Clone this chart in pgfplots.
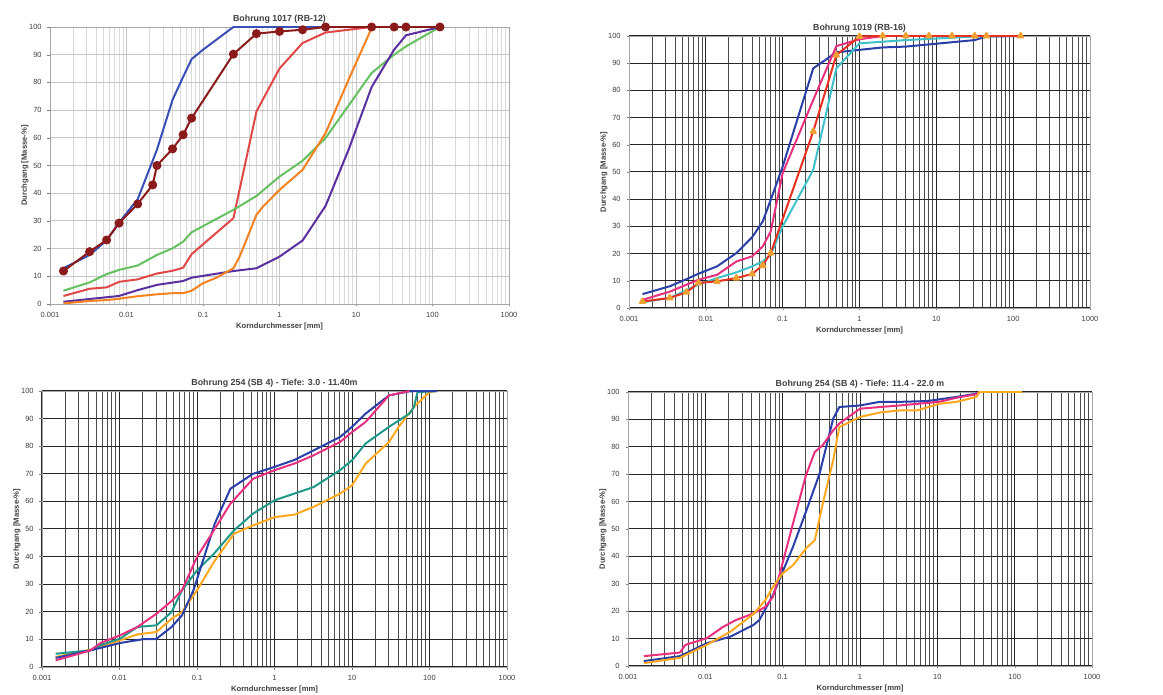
\documentclass[border=0pt]{standalone}
\usepackage{pgfplots}
\pgfplotsset{compat=1.18}
\usepackage{fontspec}
\setmainfont{Liberation Sans}
\usepackage{xcolor}

\definecolor{cblue}{HTML}{3A4FB5}
\definecolor{cdred}{HTML}{8B1A1A}
\definecolor{cred}{HTML}{E04848}
\definecolor{cgreen}{HTML}{66C060}
\definecolor{cpurple}{HTML}{5A30A0}
\definecolor{corange}{HTML}{F5821F}
\definecolor{dblue}{HTML}{2A3FA8}
\definecolor{cpink}{HTML}{E8307F}
\definecolor{cred2}{HTML}{E83020}
\definecolor{ccyan}{HTML}{40C0C8}
\definecolor{ctri}{HTML}{F0A030}
\definecolor{cteal}{HTML}{20988A}
\definecolor{camber}{HTML}{FFA820}
\definecolor{txt}{HTML}{404040}

\pgfplotsset{
  sieve/.style={
    scale only axis,
    xmin=0.001, xmax=1000, ymin=0, ymax=100,
    xtick={0.001,0.01,0.1,1,10,100,1000},
    xticklabels={0.001,0.01,0.1,1,10,100,1000},
    ytick={0,10,...,100},
    /pgf/number format/assume math mode=true,
    tick pos=left,
    tick align=outside, major tick length=1.5pt, minor tick length=0pt,
    tick style={gray},
    axis line style={gray!70},
    tick label style={font=\fontsize{4.5}{5}\selectfont, text=txt},
    title style={font=\fontsize{5.3}{6}\selectfont\bfseries, text=txt, yshift=-7.5pt},
    xlabel={Korndurchmesser [mm]},
    ylabel={Durchgang [Masse-\%]},
    label style={font=\fontsize{4.6}{5}\selectfont\bfseries, text=txt},
    xlabel style={yshift=4pt},
    ylabel style={yshift=-6.5pt},
    grid=both,
  },
  lightgrid/.style={
    major grid style={gray!45, line width=0.5pt},
    minor grid style={gray!30, line width=0.4pt},
  },
  darkgrid/.style={
    major grid style={black!85, line width=0.6pt},
    minor grid style={black!70, line width=0.6pt},
  },
  curve/.style={line width=1.2pt, line join=round},
}

\begin{document}
\begin{tikzpicture}
\useasboundingbox (0,0) rectangle (697.8pt,417pt);

% ---------- Bohrung 1017 ----------
\begin{semilogxaxis}[sieve, lightgrid, at={(30pt,234.6pt)}, anchor=south west,
  width=275.4pt, height=166.2pt, title={Bohrung 1017 (RB-12)}]
\addplot[curve, cblue] coordinates {
  (0.0015,12.9) (0.0033,17.7) (0.0055,23) (0.008,29.4) (0.014,37.8)
  (0.025,55.7) (0.04,73.7) (0.055,82) (0.071,88.4) (0.1,91.8) (0.25,100)
  (0.5,100) (1,100) (2,100) (4,100)};
\addplot[curve, cred] coordinates {
  (0.0015,2.9) (0.0033,5.5) (0.0055,6) (0.008,8) (0.014,8.9) (0.025,11)
  (0.04,12) (0.055,13.1) (0.071,18) (0.25,31) (0.5,69.5) (1,85) (2,94.2)
  (4,98) (16,100)};
\addplot[curve, cgreen] coordinates {
  (0.0015,4.8) (0.0033,7.8) (0.0055,10.8) (0.008,12.3) (0.014,13.9)
  (0.025,17.7) (0.04,20.1) (0.055,22.5) (0.071,25.9) (0.25,34) (0.5,39)
  (1,46) (2,51.7) (4,59.9) (16,83.4) (31.5,90) (45,93) (125,100)};
\addplot[curve, cpurple] coordinates {
  (0.0015,0.8) (0.0033,1.8) (0.008,2.9) (0.014,5) (0.025,6.9) (0.055,8.3)
  (0.071,9.5) (0.25,11.9) (0.5,12.9) (1,17.1) (2,22.9) (4,35.4) (8,55.7)
  (16,78.3) (31.5,91.8) (45,97) (125,100)};
\addplot[curve, corange] coordinates {
  (0.0015,0.2) (0.0033,1.1) (0.0055,1.4) (0.008,1.9) (0.014,2.8) (0.025,3.5)
  (0.04,3.9) (0.055,3.9) (0.071,4.8) (0.1,7.5) (0.15,9.5) (0.25,12.9)
  (0.3,17) (0.5,32.2) (0.6,35) (1,41.2) (2,48.4) (4,61.7) (8,81)
  (16,99.6) (22,100.8) (31.5,100)};
\addplot[curve, cdred, mark=*, mark size=2.1pt] coordinates {
  (0.0015,11.9) (0.0033,18.9) (0.0055,23.1) (0.008,29.2) (0.014,36.1)
  (0.022,43) (0.025,50) (0.04,56) (0.055,61.1) (0.071,67.1) (0.25,90.2)
  (0.5,97.6) (1,98.4) (2,99) (4,100) (16,100) (31.5,100) (45,100) (125,100)};
\end{semilogxaxis}

% ---------- Bohrung 1019 ----------
\begin{semilogxaxis}[sieve, darkgrid, at={(377.4pt,232.2pt)}, anchor=south west,
  width=276.6pt, height=163.2pt, title={Bohrung 1019 (RB-16)}]
\addplot[curve, dblue] coordinates {
  (0.0015,5.1) (0.0034,8) (0.0056,10.6) (0.008,12.6) (0.014,15.3)
  (0.025,20.2) (0.04,26) (0.055,31.8) (0.07,39.8) (0.1,52) (0.25,88.1)
  (0.5,94) (1,94.9) (2,95.8) (4,96.1) (31.5,98.5) (45,99.8) (125,100)};
\addplot[curve, ccyan] coordinates {
  (0.0015,2.1) (0.0034,3.7) (0.008,8.6) (0.014,11) (0.025,13.1) (0.04,15.3)
  (0.055,17.1) (0.07,19.6) (0.1,30) (0.25,50.8) (0.5,88.1) (1,97.3)
  (2,97.9) (4,98.5) (31.5,99.8) (125,100)};
\addplot[curve, cpink] coordinates {
  (0.0015,3) (0.0034,6) (0.008,10.4) (0.014,12.2) (0.025,17.1) (0.04,19)
  (0.055,22.6) (0.07,28.2) (0.1,49.6) (0.25,76.5) (0.5,96.3) (1,98.8)
  (2,100) (125,100)};
\addplot[curve, cred2, mark=triangle*, mark size=1.8pt,
  mark options={fill=ctri, draw=ctri}] coordinates {
  (0.0015,2.4) (0.0034,3.7) (0.0056,5.8) (0.008,9.2) (0.014,9.8)
  (0.025,11) (0.04,12.5) (0.055,15.7) (0.07,20.2) (0.25,64.9) (0.5,93)
  (1,99.8) (2,100) (4,100) (8,100) (16,100) (31.5,100) (45,100) (125,100)};
\end{semilogxaxis}

% ---------- Bohrung 254, 3.0 - 11.40 m ----------
\begin{semilogxaxis}[sieve, darkgrid, at={(25.2pt,16.8pt)}, anchor=south west,
  width=279pt, height=165.6pt, title={Bohrung 254 (SB 4) - Tiefe: 3.0 - 11.40m}]
\addplot[curve, camber] coordinates {
  (0.0015,3.6) (0.0042,6.3) (0.0057,7.2) (0.0102,9.7) (0.017,11.8)
  (0.03,12.7) (0.047,17.5) (0.064,19.9) (0.1,27.8) (0.165,38) (0.3,48.3)
  (0.53,51.3) (1,54.3) (1.8,55.2) (3.2,58) (7,62.8) (10,65.8) (15,73.7)
  (30,81.5) (40,87) (63,94.2) (100,99.6) (125,100)};
\addplot[curve, cteal] coordinates {
  (0.0015,4.8) (0.0042,6) (0.0057,7.9) (0.0102,10.3) (0.017,14.5)
  (0.03,15.1) (0.047,19.9) (0.064,27.8) (0.1,35) (0.165,41) (0.3,49.5)
  (0.53,55.6) (1,60.4) (3.2,65.2) (7,71.3) (10,74.9) (15,81) (30,87)
  (55,91.8) (63,94.2) (70,99.6) (125,100)};
\addplot[curve, dblue] coordinates {
  (0.0015,3.3) (0.0042,6) (0.0102,8.7) (0.0204,10.1) (0.0296,10.1)
  (0.047,14.5) (0.064,18.7) (0.09,27.8) (0.17,52) (0.27,64.6) (0.53,70)
  (1,72.5) (1.8,75) (3.2,78.5) (7,83.3) (10,87) (15,91.8) (30,98.4)
  (55,99.9) (125,100)};
\addplot[curve, cpink] coordinates {
  (0.0015,2.4) (0.0042,6) (0.0057,8.7) (0.0102,11.5) (0.017,14.5)
  (0.03,19.3) (0.047,23.9) (0.064,27.8) (0.1,39.9) (0.165,49.5)
  (0.27,59.2) (0.53,68.2) (1,71.3) (1.8,73.7) (3.2,76.7) (7,81.5)
  (10,85.1) (15,88.8) (30,98.4) (55,100)};
\end{semilogxaxis}

% ---------- Bohrung 254, 11.4 - 22.0 m ----------
\begin{semilogxaxis}[sieve, darkgrid, at={(376.8pt,17.4pt)}, anchor=south west,
  width=278.4pt, height=164.4pt, title={Bohrung 254 (SB 4) - Tiefe: 11.4 - 22.0 m}]
\addplot[curve, dblue] coordinates {
  (0.0016,1.8) (0.0047,3.6) (0.0104,8.3) (0.021,10.7) (0.042,15) (0.05,16.8)
  (0.075,25.9) (0.136,43.5) (0.2,56.3) (0.3,70.2) (0.45,90.3) (0.54,94.5)
  (1,95.1) (1.8,96.4) (3.3,96.4) (7.3,96.7) (10.5,97.3) (17.7,98.2)
  (32,99.4) (35,100) (125,100)};
\addplot[curve, cpink] coordinates {
  (0.0016,3.6) (0.0047,4.9) (0.0055,7.7) (0.0104,10.1) (0.017,14.3)
  (0.025,16.8) (0.042,19.2) (0.06,21.6) (0.075,25.3) (0.092,33.8)
  (0.136,52) (0.2,69.6) (0.26,78.1) (0.33,80.6) (0.45,86) (0.54,88.5)
  (1,93.9) (1.8,94.5) (3.3,95.1) (7.3,96) (10.5,96.4) (17.7,97.9)
  (32,99.2) (35,100) (125,100)};
\addplot[curve, camber] coordinates {
  (0.0016,1) (0.0047,3) (0.0104,7.7) (0.021,12.5) (0.042,19) (0.06,24.1)
  (0.075,28.9) (0.1,33.8) (0.136,36.8) (0.2,42.9) (0.26,45.9) (0.33,59.3)
  (0.45,75.1) (0.54,87.2) (1,90.9) (1.8,92.5) (3.3,93.3) (5.5,93.3)
  (10.5,95.7) (17.7,96.4) (32,98.2) (35,100) (125,100)};
\end{semilogxaxis}
\end{tikzpicture}
\end{document}
